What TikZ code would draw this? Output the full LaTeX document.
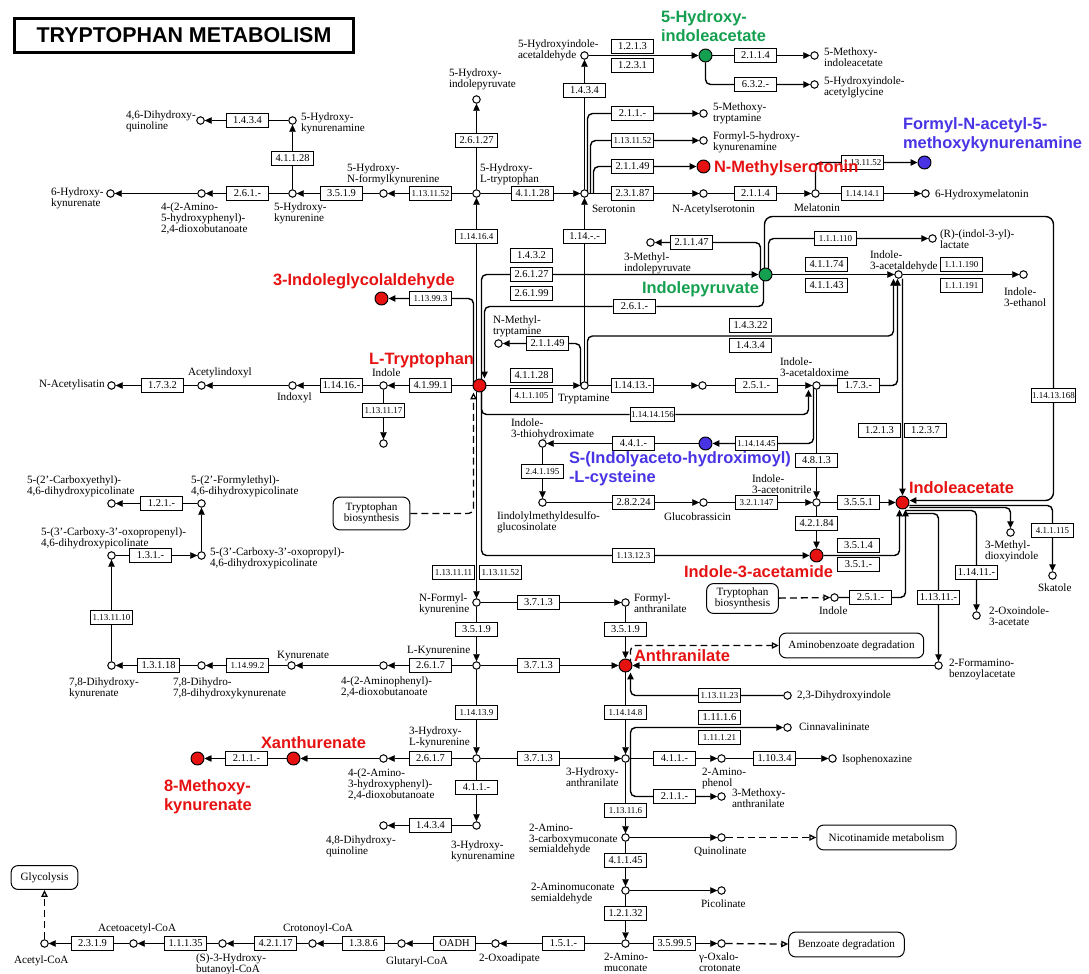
\documentclass[tikz,border=0pt]{standalone}
\usepackage{fontspec}
\setmainfont{Liberation Serif}
\newfontfamily\keggsans{Liberation Sans}
\usepackage{tikz}
\usetikzlibrary{arrows.meta,backgrounds}
\definecolor{kred}{RGB}{230,18,18}
\definecolor{kgreen}{RGB}{20,160,80}
\definecolor{kblue}{RGB}{72,52,228}
\newcommand\cpdsize{\fontsize{11.2}{10.8}\selectfont}
\newcommand\ecsize{\fontsize{10.5}{11}\selectfont}
\newcommand\ecsmall{\fontsize{9}{10}\selectfont}
\newcommand\hitsize{\keggsans\bfseries\fontsize{16.5}{19}\selectfont}
\newcommand\ttlsize{\keggsans\bfseries\fontsize{21.5}{24}\selectfont}

\begin{document}
\begin{tikzpicture}[x=1bp,y=-1bp,line width=1bp,>={Triangle[length=7pt,width=6.5pt]},
  cpd/.style={circle,draw,fill=white,inner sep=0pt,minimum size=7.5pt},
  hit/.style={circle,draw,fill=#1,inner sep=0pt,minimum size=13pt},
  enz/.style={draw,fill=white,inner sep=1pt,minimum width=43pt,minimum height=14pt,font=\ecsize},
  enzs/.style={enz,font=\ecsmall},
  lab/.style={font=\cpdsize,align=left,anchor=north west,inner sep=0pt},
  hitlab/.style={font=\hitsize,text=#1,align=left,inner sep=0pt},
  mapbox/.style={draw,rounded corners=7pt,font=\cpdsize,align=center,inner sep=0pt},
  mlink/.style={line width=1.3bp,dash pattern=on 7pt off 4pt,-{Triangle[open,length=7pt,width=6.5pt]}},
  elbow/.style={->,line width=1.4bp,rounded corners=5pt}]
\useasboundingbox (-0.5,-0.5) rectangle (1088.5,973.5);

\node[draw,line width=2.5pt,font=\ttlsize,minimum width=340pt,minimum height=34pt,inner sep=0pt] (title) at (183.5,35) {TRYPTOPHAN METABOLISM};

\node[cpd] (hq46) at (200,120) {};
\node[cpd] (hkyn5am) at (292,120) {};
\node[cpd] (hkyn5) at (292,193) {};
\node[cpd] (ahpd) at (201,193) {};
\node[cpd] (hkyna6) at (110,193) {};
\node[cpd] (hnfk) at (383,193) {};
\node[cpd] (htp) at (476,193) {};
\node[cpd] (hipyr) at (476,99) {};
\node[cpd] (ser) at (584,193) {};
\node[cpd] (hiald) at (584,55) {};
\node[hit=kgreen] (hiaa) at (705,55) {};
\node[cpd] (mxt5) at (703,113) {};
\node[cpd] (fhk) at (703,140) {};
\node[hit=kred] (nms) at (703,166) {};
\node[cpd] (nas) at (703,193) {};
\node[cpd] (miaa5) at (814,55) {};
\node[cpd] (hiag) at (814,84) {};
\node[cpd] (mel) at (815,193) {};
\node[cpd] (hmel6) at (925,193) {};
\node[hit=kblue] (fnak) at (924,162) {};
\node[cpd] (ilac) at (932,238) {};
\node[cpd] (mipyr) at (650,242) {};
\node[hit=kgreen] (ipyr) at (765,274) {};
\node[cpd] (iald) at (898,274) {};
\node[cpd] (ieth) at (1023,274) {};
\node[hit=kred] (ig3) at (381,298) {};
\node[cpd] (nmt) at (498,343) {};
\node[hit=kred] (trp) at (479,385) {};
\node[cpd] (tra) at (584,385) {};
\node[cpd] (nht) at (702,385) {};
\node[cpd] (iaox) at (816,385) {};
\node[cpd] (ind1) at (383,385) {};
\node[cpd] (ind1b) at (383,443) {};
\node[cpd] (indx) at (292,385) {};
\node[cpd] (acind) at (201,385) {};
\node[cpd] (nai) at (111,385) {};
\node[cpd] (ith) at (542,443) {};
\node[hit=kblue] (sic) at (705,443) {};
\node[cpd] (imdg) at (542,502) {};
\node[cpd] (gbr) at (703,502) {};
\node[cpd] (ian) at (816,502) {};
\node[hit=kred] (iaa) at (902,502) {};
\node[hit=kred] (iam) at (816,555) {};
\node[cpd] (ind2) at (834,597) {};
\node[cpd] (mdi) at (1010,532) {};
\node[cpd] (ska) at (1052,575) {};
\node[cpd] (oia) at (976,615) {};
\node[cpd] (fbz) at (938,665) {};
\node[cpd] (dhi) at (787,695) {};
\node[hit=kred] (anth) at (625,665) {};
\node[cpd] (nfk) at (476,602) {};
\node[cpd] (fanth) at (625,602) {};
\node[cpd] (kyn) at (476,665) {};
\node[cpd] (apdb) at (383,665) {};
\node[cpd] (kyna) at (291,665) {};
\node[cpd] (dhk78) at (201,665) {};
\node[cpd] (dhky) at (111,665) {};
\node[cpd] (ccop) at (111,555) {};
\node[cpd] (ccoa) at (201,555) {};
\node[cpd] (fedp) at (201,503) {};
\node[cpd] (cedp) at (111,503) {};
\node[cpd] (hkyn) at (476,758) {};
\node[cpd] (ahdb) at (383,758) {};
\node[hit=kred] (xan) at (293,758) {};
\node[hit=kred] (mky) at (197,758) {};
\node[cpd] (haa) at (625,758) {};
\node[cpd] (hkam) at (476,825) {};
\node[cpd] (dhq48) at (383,825) {};
\node[cpd] (cinn) at (787,727) {};
\node[cpd] (aph) at (721,758) {};
\node[cpd] (isop) at (832,758) {};
\node[cpd] (mant) at (721,796) {};
\node[cpd] (acms) at (625,837) {};
\node[cpd] (quin) at (721,837) {};
\node[cpd] (ams) at (625,890) {};
\node[cpd] (pic) at (721,890) {};
\node[cpd] (amu) at (625,943) {};
\node[cpd] (oxc) at (721,943) {};
\node[cpd] (oxa) at (495,943) {};
\node[cpd] (glu) at (401,943) {};
\node[cpd] (cro) at (312,943) {};
\node[cpd] (hbc) at (222,943) {};
\node[cpd] (aac) at (133,943) {};
\node[cpd] (acoa) at (44,943) {};
\coordinate (lp) at (1053,216);

\node[enz] (e1) at (247,120) {1.4.3.4};
\node[enz] (e2) at (292,158) {4.1.1.28};
\node[enz] (e3) at (247,193) {2.6.1.-};
\node[enz] (e4) at (341,193) {3.5.1.9};
\node[enzs] (e5) at (430,193) {1.13.11.52};
\node[enz] (e6) at (476,140) {2.6.1.27};
\node[enzs] (e7) at (476,236) {1.14.16.4};
\node[enz] (e8) at (532,193) {4.1.1.28};
\node[enz] (e9) at (584,90) {1.4.3.4};
\node[enz] (e10) at (632,46) {1.2.1.3};
\node[enz] (e11) at (632,65) {1.2.3.1};
\node[enz] (e12) at (584,236) {1.14.-.-};
\node[enz] (e13) at (632,113) {2.1.1.-};
\node[enzs] (e14) at (632,140) {1.13.11.52};
\node[enz] (e15) at (632,166) {2.1.1.49};
\node[enz] (e16) at (632,193) {2.3.1.87};
\node[enz] (e17) at (755,55) {2.1.1.4};
\node[enz] (e18) at (755,84) {6.3.2.-};
\node[enz] (e19) at (755,193) {2.1.1.4};
\node[enzs] (e20) at (862,193) {1.14.14.1};
\node[enzs] (e21) at (862,162) {1.13.11.52};
\node[enzs] (e22) at (835,238) {1.1.1.110};
\node[enz] (e23) at (691,242) {2.1.1.47};
\node[enz] (e24) at (531,255) {1.4.3.2};
\node[enz] (e25) at (531,274) {2.6.1.27};
\node[enz] (e26) at (531,293) {2.6.1.99};
\node[enzs] (e27) at (430,298) {1.13.99.3};
\node[enz] (e28) at (634,306) {2.6.1.-};
\node[enz] (e29) at (826,264) {4.1.1.74};
\node[enz] (e30) at (826,285) {4.1.1.43};
\node[enzs] (e31) at (961,264) {1.1.1.190};
\node[enzs] (e32) at (961,285) {1.1.1.191};
\node[enz] (e33) at (750,325) {1.4.3.22};
\node[enz] (e34) at (750,345) {1.4.3.4};
\node[enz] (e35) at (547,343) {2.1.1.49};
\node[enz] (e36) at (531,375) {4.1.1.28};
\node[enzs] (e37) at (531,395) {4.1.1.105};
\node[enz] (e38) at (632,385) {1.14.13.-};
\node[enz] (e39) at (756,385) {2.5.1.-};
\node[enz] (e40) at (858,385) {1.7.3.-};
\node[enzs] (e41) at (652,414) {1.14.14.156};
\node[enz] (e42) at (430,385) {4.1.99.1};
\node[enzs] (e43) at (383,410) {1.13.11.17};
\node[enz] (e44) at (341,385) {1.14.16.-};
\node[enz] (e45) at (162,385) {1.7.3.2};
\node[enz] (e46) at (633,443) {4.4.1.-};
\node[enzs] (e47) at (756,443) {1.14.14.45};
\node[enzs] (e48) at (542,471) {2.4.1.195};
\node[enz] (e49) at (816,460) {4.8.1.3};
\node[enz] (e50) at (633,502) {2.8.2.24};
\node[enzs] (e51) at (756,502) {3.2.1.147};
\node[enz] (e52) at (858,502) {3.5.5.1};
\node[enz] (e53) at (816,523) {4.2.1.84};
\node[enz] (e54) at (858,545) {3.5.1.4};
\node[enz] (e55) at (858,564) {3.5.1.-};
\node[enzs] (e56) at (633,555) {1.13.12.3};
\node[enz] (e57) at (870,597) {2.5.1.-};
\node[enz] (e58) at (879,430) {1.2.1.3};
\node[enz] (e59) at (925,430) {1.2.3.7};
\node[enzs] (e60) at (1053,395) {1.14.13.168};
\node[enzs] (e61) at (1052,530) {4.1.1.115};
\node[enz] (e62) at (976,572) {1.14.11.-};
\node[enz] (e63) at (938,597) {1.13.11.-};
\node[enzs] (e64) at (719,695) {1.13.11.23};
\node[enzs] (e65) at (453,572) {1.13.11.11};
\node[enzs] (e66) at (500,572) {1.13.11.52};
\node[enz] (e67) at (538,602) {3.7.1.3};
\node[enz] (e68) at (476,629) {3.5.1.9};
\node[enz] (e69) at (625,629) {3.5.1.9};
\node[enz] (e70) at (538,665) {3.7.1.3};
\node[enz] (e71) at (430,665) {2.6.1.7};
\node[enzs] (e72) at (247,665) {1.14.99.2};
\node[enz] (e73) at (158,665) {1.3.1.18};
\node[enzs] (e74) at (111,617) {1.13.11.10};
\node[enz] (e75) at (150,555) {1.3.1.-};
\node[enz] (e76) at (161,503) {1.2.1.-};
\node[enzs] (e77) at (476,712) {1.14.13.9};
\node[enzs] (e78) at (625,712) {1.14.14.8};
\node[enz] (e79) at (430,758) {2.6.1.7};
\node[enz] (e80) at (538,758) {3.7.1.3};
\node[enz] (e81) at (246,758) {2.1.1.-};
\node[enz] (e82) at (476,787) {4.1.1.-};
\node[enz] (e83) at (430,825) {1.4.3.4};
\node[enz] (e84) at (719,717) {1.11.1.6};
\node[enzs] (e85) at (719,737) {1.11.1.21};
\node[enz] (e86) at (674,758) {4.1.1.-};
\node[enz] (e87) at (774,758) {1.10.3.4};
\node[enz] (e88) at (674,796) {2.1.1.-};
\node[enzs] (e89) at (625,810) {1.13.11.6};
\node[enz] (e90) at (625,860) {4.1.1.45};
\node[enz] (e91) at (625,913) {1.2.1.32};
\node[enz] (e92) at (674,943) {3.5.99.5};
\node[enz] (e93) at (563,943) {1.5.1.-};
\node[enz] (e94) at (454,943) {OADH};
\node[enz] (e95) at (363,943) {1.3.8.6};
\node[enz] (e96) at (275,943) {4.2.1.17};
\node[enz] (e97) at (185,943) {1.1.1.35};
\node[enz] (e98) at (92,943) {2.3.1.9};

\node[mapbox,minimum width=77pt,minimum height=33pt] (tb1) at (371,513) {Tryptophan\\biosynthesis};
\node[mapbox,minimum width=72pt,minimum height=30pt] (tb2) at (742,598) {Tryptophan\\biosynthesis};
\node[mapbox,minimum width=145pt,minimum height=25pt] (abd) at (851,645) {Aminobenzoate degradation};
\node[mapbox,minimum width=140pt,minimum height=25pt] (nic) at (886,837) {Nicotinamide metabolism};
\node[mapbox,minimum width=116pt,minimum height=25pt] (bzd) at (846,944) {Benzoate degradation};
\node[mapbox,minimum width=67pt,minimum height=24pt] (gly) at (44,877) {Glycolysis};

\node[lab] (t-hq46) at (125,110) {4,6-Dihydroxy-\\quinoline};
\node[lab] (t-hkyn5am) at (300,112) {5-Hydroxy-\\kynurenamine};
\node[lab] (t-hkyna6) at (50,187) {6-Hydroxy-\\kynurenate};
\node[lab] (t-ahpd) at (160,202) {4-(2-Amino-\\5-hydroxyphenyl)-\\2,4-dioxobutanoate};
\node[lab] (t-hkyn5) at (273,202) {5-Hydroxy-\\kynurenine};
\node[lab] (t-hnfk) at (346,163) {5-Hydroxy-\\N-formylkynurenine};
\node[lab] (t-htp) at (479,163) {5-Hydroxy-\\L-tryptophan};
\node[lab] (t-hipyr) at (448,68) {5-Hydroxy-\\indolepyruvate};
\node[lab] (t-hiald) at (517,39) {5-Hydroxyindole-\\acetaldehyde};
\node[lab] (t-ser) at (591,204) {Serotonin};
\node[lab] (t-nas) at (671,204) {N-Acetylserotonin};
\node[lab] (t-mxt5) at (712,102) {5-Methoxy-\\tryptamine};
\node[lab] (t-fhk) at (712,131) {Formyl-5-hydroxy-\\kynurenamine};
\node[lab] (t-miaa5) at (823,47) {5-Methoxy-\\indoleacetate};
\node[lab] (t-hiag) at (823,76) {5-Hydroxyindole-\\acetylglycine};
\node[lab] (t-hmel6) at (934,189) {6-Hydroxymelatonin};
\node[lab] (t-mel) at (793,203) {Melatonin};
\node[lab] (t-ilac) at (939,229) {(R)-(indol-3-yl)-\\lactate};
\node[lab] (t-mipyr) at (623,252) {3-Methyl-\\indolepyruvate};
\node[lab] (t-nmt) at (492,315) {N-Methyl-\\tryptamine};
\node[lab] (t-ind1) at (371,368) {Indole};
\node[lab] (t-tra) at (557,393) {Tryptamine};
\node[lab] (t-ith) at (510,418) {Indole-\\3-thiohydroximate};
\node[lab] (t-iald) at (869,250) {Indole-\\3-acetaldehyde};
\node[lab] (t-ieth) at (1003,287) {Indole-\\3-ethanol};
\node[lab] (t-iaox) at (779,357) {Indole-\\3-acetaldoxime};
\node[lab] (t-nai) at (38,379) {N-Acetylisatin};
\node[lab] (t-acind) at (187,367) {Acetylindoxyl};
\node[lab] (t-indx) at (276,392) {Indoxyl};
\node[lab] (t-imdg) at (496,511) {Iindolylmethyldesulfo-\\glucosinolate};
\node[lab] (t-gbr) at (663,512) {Glucobrassicin};
\node[lab] (t-nfk) at (418,593) {N-Formyl-\\kynurenine};
\node[lab] (t-fanth) at (633,593) {Formyl-\\anthranilate};
\node[lab] (t-kyn) at (406,645) {L-Kynurenine};
\node[lab] (t-apdb) at (340,676) {4-(2-Aminophenyl)-\\2,4-dioxobutanoate};
\node[lab] (t-kyna) at (276,650) {Kynurenate};
\node[lab] (t-dhk78) at (172,677) {7,8-Dihydro-\\7,8-dihydroxykynurenate};
\node[lab] (t-dhky) at (68,677) {7,8-Dihydroxy-\\kynurenate};
\node[lab] (t-ccop) at (40,527) {5-(3'-Carboxy-3'-oxopropenyl)-\\4,6-dihydroxypicolinate};
\node[lab] (t-ccoa) at (209,547) {5-(3'-Carboxy-3'-oxopropyl)-\\4,6-dihydroxypicolinate};
\node[lab] (t-fedp) at (190,475) {5-(2'-Formylethyl)-\\4,6-dihydroxypicolinate};
\node[lab] (t-cedp) at (26,475) {5-(2'-Carboxyethyl)-\\4,6-dihydroxypicolinate};
\node[lab] (t-ian) at (751,474) {Indole-\\3-acetonitrile};
\node[lab] (t-mdi) at (984,540) {3-Methyl-\\dioxyindole};
\node[lab] (t-ska) at (1037,583) {Skatole};
\node[lab] (t-oia) at (988,606) {2-Oxoindole-\\3-acetate};
\node[lab] (t-ind2) at (818,606) {Indole};
\node[lab] (t-fbz) at (948,658) {2-Formamino-\\benzoylacetate};
\node[lab] (t-dhi) at (796,690) {2,3-Dihydroxyindole};
\node[lab] (t-cinn) at (798,722) {Cinnavalininate};
\node[lab] (t-isop) at (841,754) {Isophenoxazine};
\node[lab] (t-mant) at (731,788) {3-Methoxy-\\anthranilate};
\node[lab] (t-hkyn) at (408,726) {3-Hydroxy-\\L-kynurenine};
\node[lab] (t-ahdb) at (347,768) {4-(2-Amino-\\3-hydroxyphenyl)-\\2,4-dioxobutanoate};
\node[lab] (t-haa) at (565,767) {3-Hydroxy-\\anthranilate};
\node[lab] (t-aph) at (701,767) {2-Amino-\\phenol};
\node[lab] (t-hkam) at (450,840) {3-Hydroxy-\\kynurenamine};
\node[lab] (t-dhq48) at (325,835) {4,8-Dihydroxy-\\quinoline};
\node[lab] (t-acms) at (528,823) {2-Amino-\\3-carboxymuconate\\semialdehyde};
\node[lab] (t-quin) at (693,846) {Quinolinate};
\node[lab] (t-ams) at (530,882) {2-Aminomuconate\\semialdehyde};
\node[lab] (t-pic) at (700,899) {Picolinate};
\node[lab] (t-amu) at (603,952) {2-Amino-\\muconate};
\node[lab] (t-oxc) at (698,952) {γ-Oxalo-\\crotonate};
\node[lab] (t-oxa) at (478,953) {2-Oxoadipate};
\node[lab] (t-glu) at (385,956) {Glutaryl-CoA};
\node[lab] (t-cro) at (282,923) {Crotonoyl-CoA};
\node[lab] (t-aac) at (97,923) {Acetoacetyl-CoA};
\node[lab] (t-hbc) at (195,953) {(S)-3-Hydroxy-\\butanoyl-CoA};
\node[lab] (t-acoa) at (13,955) {Acetyl-CoA};

\node[hitlab=kgreen,anchor=north west] (l-hiaa) at (660,10) {5-Hydroxy-\\indoleacetate};
\node[hitlab=kblue,anchor=north west] (l-fnak) at (902,117) {Formyl-N-acetyl-5-\\methoxykynurenamine};
\node[hitlab=kblue,anchor=north west] (l-sic) at (568,451) {S-(Indolyaceto-hydroximoyl)\\-L-cysteine};
\node[hitlab=kred,anchor=north west] (l-mky) at (163,779) {8-Methoxy-\\kynurenate};
\node[hitlab=kred,anchor=base west] (l-nms) at (713,172) {N-Methylserotonin};
\node[hitlab=kred,anchor=base west] (l-ig3) at (272,285) {3-Indoleglycolaldehyde};
\node[hitlab=kred,anchor=base west] (l-trp) at (368,364) {L-Tryptophan};
\node[hitlab=kgreen,anchor=base west] (l-ipyr) at (641,293) {Indolepyruvate};
\node[hitlab=kred,anchor=base west] (l-iaa) at (908,493) {Indoleacetate};
\node[hitlab=kred,anchor=base east] (l-iam) at (833,577) {Indole-3-acetamide};
\node[hitlab=kred,anchor=base west] (l-anth) at (633,661) {Anthranilate};
\node[hitlab=kred,anchor=base west] (l-xan) at (260,748) {Xanthurenate};

\begin{scope}[on background layer]
\path[->]
  (hkyn5am) edge (hq46)
  (hkyn5) edge (hkyn5am)
  (hkyn5) edge (ahpd)
  (ahpd) edge (hkyna6)
  (hnfk) edge (hkyn5)
  (htp) edge (hnfk)
  (htp) edge (hipyr)
  (htp) edge (ser)
  (ser) edge (hiald)
  (hiald) edge (hiaa)
  (hiaa) edge (miaa5)
  (tra) edge (ser)
  (ser) edge (nas)
  (nas) edge (mel)
  (mel) edge (hmel6)
  (ipyr) edge (iald)
  (iald) edge (ieth)
  (trp) edge (tra)
  (trp) edge (ind1)
  (ind1) edge (indx)
  (indx) edge (acind)
  (acind) edge (nai)
  (ind1) edge (ind1b)
  (tra) edge (nht)
  (nht) edge (iaox)
  (iaox) edge (ian)
  (sic) edge (ith)
  (ith) edge (imdg)
  (imdg) edge (gbr)
  (gbr) edge (ian)
  (ian) edge (iaa)
  (ian) edge (iam)
  (fbz) edge (anth)
  (nfk) edge (fanth)
  (fanth) edge (anth)
  (nfk) edge (kyn)
  (kyn) edge (anth)
  (kyn) edge (apdb)
  (apdb) edge (kyna)
  (kyna) edge (dhk78)
  (dhk78) edge (dhky)
  (dhky) edge (ccop)
  (ccop) edge (ccoa)
  (ccoa) edge (fedp)
  (fedp) edge (cedp)
  (kyn) edge (hkyn)
  (anth) edge (haa)
  (hkyn) edge (haa)
  (hkyn) edge (ahdb)
  (ahdb) edge (xan)
  (xan) edge (mky)
  (hkyn) edge (hkam)
  (hkam) edge (dhq48)
  (haa) edge (aph)
  (aph) edge (isop)
  (haa) edge (acms)
  (acms) edge (quin)
  (acms) edge (ams)
  (ams) edge (pic)
  (ams) edge (amu)
  (amu) edge (oxc)
  (amu) edge (oxa)
  (oxa) edge (glu)
  (glu) edge (cro)
  (cro) edge (hbc)
  (hbc) edge (aac)
  (aac) edge (acoa);
\draw[elbow] (hiaa) |- (hiag);
\draw[elbow] ([xshift=3bp]ser.center) |- (mxt5);
\draw[elbow] ([xshift=6bp]ser.center) |- (fhk);
\draw[elbow] ([xshift=9bp]ser.center) |- (nms);
\draw[elbow] (mel) |- (fnak);
\draw[->] (trp.north -| htp) -- (htp);
\draw[->] (trp.south -| nfk) -- (nfk);
\draw[elbow] ([xshift=-6bp]trp.center) |- (ig3);
\draw[elbow] ([xshift=2bp]trp.center) |- (ipyr);
\draw[elbow] ([xshift=-2bp]ipyr.center) |- (e28) -| ([xshift=5bp]trp.north);
\draw[elbow] ([xshift=-5bp]ipyr.center) |- (mipyr);
\draw[elbow] ([xshift=3bp]ipyr.center) |- (ilac);
\draw[elbow,rounded corners=8pt] ([xshift=-1bp]ipyr.center) |- (lp) |- ([yshift=2bp]iaa.east);
\draw[elbow] ([xshift=-4bp]tra.center) |- (nmt);
\draw[elbow] ([xshift=3bp]tra.center) |- ([yshift=-3bp]e33.south) -| ([xshift=-5bp]iald.south);
\draw[elbow] (iaox) -| ([xshift=-1bp]iald.south);
\draw[->,line width=1.4bp] ([xshift=4bp]iald.south) -- (iaa.north);
\draw[elbow] ([xshift=2bp]trp.center) |- (e41) -| ([xshift=-8bp]iaox.south);
\draw[elbow] ([xshift=-3bp]iaox.center) |- (sic);
\draw[elbow] ([xshift=2bp]trp.center) |- (iam);
\draw[elbow] (iam) -| ([xshift=-3bp]iaa.south);
\draw[elbow] (ind2) -| ([xshift=3bp]iaa.south);
\draw[elbow] ([yshift=-3bp]iaa.east) -| (ska);
\draw[elbow] ([yshift=-5bp]iaa.east) -| (mdi);
\draw[elbow] ([shift={(3bp,-8bp)}]iaa.center) -| (oia);
\draw[elbow] ([shift={(3bp,-11bp)}]iaa.center) -| (fbz);
\draw[elbow] (dhi) -| ([xshift=5bp]anth.south);
\draw[elbow] ([xshift=5bp]haa.center) |- (cinn);
\draw[elbow] ([xshift=5bp]haa.center) |- (mant);
\draw[mlink,rounded corners=5pt] (tb1) -| ([xshift=-6bp]trp.south);
\draw[mlink] (tb2) -- (ind2);
\draw[mlink,rounded corners=5pt] ([xshift=5bp]anth.center) |- (abd);
\draw[mlink] (quin) -- (nic);
\draw[mlink] (oxc) -- (bzd);
\draw[mlink] (acoa) -- (gly);
\end{scope}
\end{tikzpicture}
\end{document}
